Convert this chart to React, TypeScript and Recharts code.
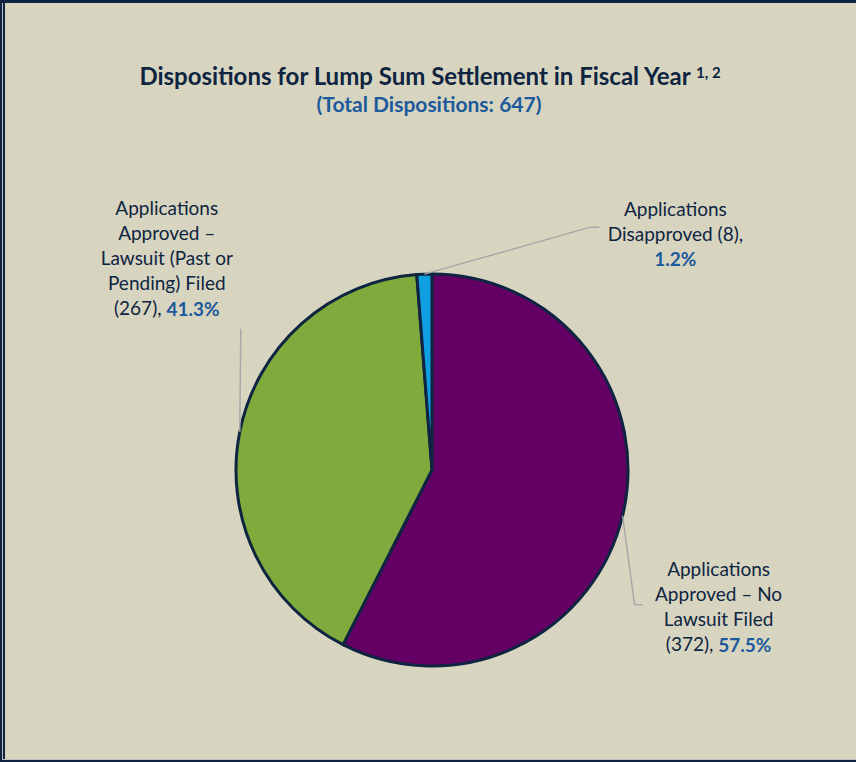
import { PieChart, Pie, Cell } from 'recharts';

// dispositions, clockwise from 12 o'clock
const categories = [
  'Applications Approved – No Lawsuit Filed',
  'Applications Approved – Lawsuit (Past or Pending) Filed',
  'Applications Disapproved',
];
const counts = [372, 267, 8];
const percents = ['57.5%', '41.3%', '1.2%'];
const labelLines = [
  ['Applications', 'Approved – No', 'Lawsuit Filed', '(372), '],
  ['Applications', 'Approved –', 'Lawsuit (Past or', 'Pending) Filed', '(267), '],
  ['Applications', 'Disapproved (8),', ''],
];
const total = 647;

const COLORS = ['#640064', '#7fab3c', '#0ea0e0'];
const NAVY = '#0e2441';
const BLUE_TXT = '#1d5a9b';
const FONT = 'Lato, "Open Sans", sans-serif';

// label layout relative to the slice's outer edge point: elbow, end, text centre
const LEADERS = [
  { elbow: [12, 89], end: [20, 89], text: [96, 53] },
  { elbow: [1, -103], end: [1, -103], text: [-73, -224] },
  { elbow: [166, -47], end: [175, -47], text: [251, -66] },
];
const LINE_H = 25;
const RAD = Math.PI / 180;

const data = categories.map((name, i) => ({ name, value: counts[i] }));

function renderLabel(props: any) {
  const { cx, cy, midAngle, outerRadius, index } = props;
  const ax = cx + outerRadius * Math.cos(-midAngle * RAD);
  const ay = cy + outerRadius * Math.sin(-midAngle * RAD);
  const lay = LEADERS[index];
  const lines = labelLines[index];
  const tx = ax + lay.text[0];
  const ty = ay + lay.text[1];
  return (
    <g key={`lbl-${index}`}>
      <polyline
        points={`${ax},${ay} ${ax + lay.elbow[0]},${ay + lay.elbow[1]} ${ax + lay.end[0]},${ay + lay.end[1]}`}
        fill="none"
        stroke="#a8a8a8"
        strokeWidth={1.5}
      />
      {lines.map((ln, j) => (
        <text
          key={j}
          x={tx}
          y={ty + j * LINE_H}
          textAnchor="middle"
          dominantBaseline="central"
          fontFamily={FONT}
          fontSize={19}
          fill={NAVY}
        >
          {ln}
          {j === lines.length - 1 && (
            <tspan fontWeight="bold" fill={BLUE_TXT}>
              {percents[index]}
            </tspan>
          )}
        </text>
      ))}
    </g>
  );
}

export default function App() {
  return (
    <div style={{ position: 'relative', width: 856, height: 762, background: '#d7d5c0', overflow: 'hidden' }}>
      <style>{'body{margin:0}'}</style>
      <div style={{ position: 'absolute', left: 0, top: 0, width: 856, height: 3, background: NAVY }} />
      <div style={{ position: 'absolute', left: 0, top: 0, width: 2, height: 762, background: NAVY }} />
      <div style={{ position: 'absolute', left: 2, top: 3, width: 1, height: 757, background: '#b9c0c8' }} />
      <div style={{ position: 'absolute', left: 3, top: 0, width: 2, height: 762, background: NAVY }} />
      <div style={{ position: 'absolute', left: 3, top: 759, width: 853, height: 1, background: '#b9c0c8' }} />
      <div style={{ position: 'absolute', left: 0, top: 760, width: 856, height: 2, background: NAVY }} />

      <div
        style={{
          position: 'absolute',
          left: 0,
          width: 860,
          top: 61,
          textAlign: 'center',
          fontFamily: FONT,
          fontWeight: 'bold',
          fontSize: 24,
          color: NAVY,
          lineHeight: '30px',
          whiteSpace: 'nowrap',
        }}
      >
        Dispositions for Lump Sum Settlement in Fiscal Year{' '}
        <span style={{ fontSize: 15, verticalAlign: 'top', position: 'relative', top: -4 }}>1, 2</span>
      </div>
      <div
        style={{
          position: 'absolute',
          left: 0,
          width: 858,
          top: 91,
          textAlign: 'center',
          fontFamily: FONT,
          fontWeight: 'bold',
          fontSize: 21,
          color: BLUE_TXT,
          lineHeight: '26px',
        }}
      >
        (Total Dispositions: {total})
      </div>

      <div style={{ position: 'absolute', left: 0, top: 0 }}>
        <PieChart width={856} height={762} margin={{ top: 0, right: 0, bottom: 0, left: 0 }}>
          <Pie
            data={data}
            dataKey="value"
            nameKey="name"
            cx={432}
            cy={470}
            outerRadius={196}
            startAngle={90}
            endAngle={-270}
            stroke={NAVY}
            strokeWidth={3}
            label={renderLabel}
            labelLine={false}
            isAnimationActive={false}
          >
            {data.map((d, i) => (
              <Cell key={d.name} fill={COLORS[i]} />
            ))}
          </Pie>
        </PieChart>
      </div>
    </div>
  );
}
